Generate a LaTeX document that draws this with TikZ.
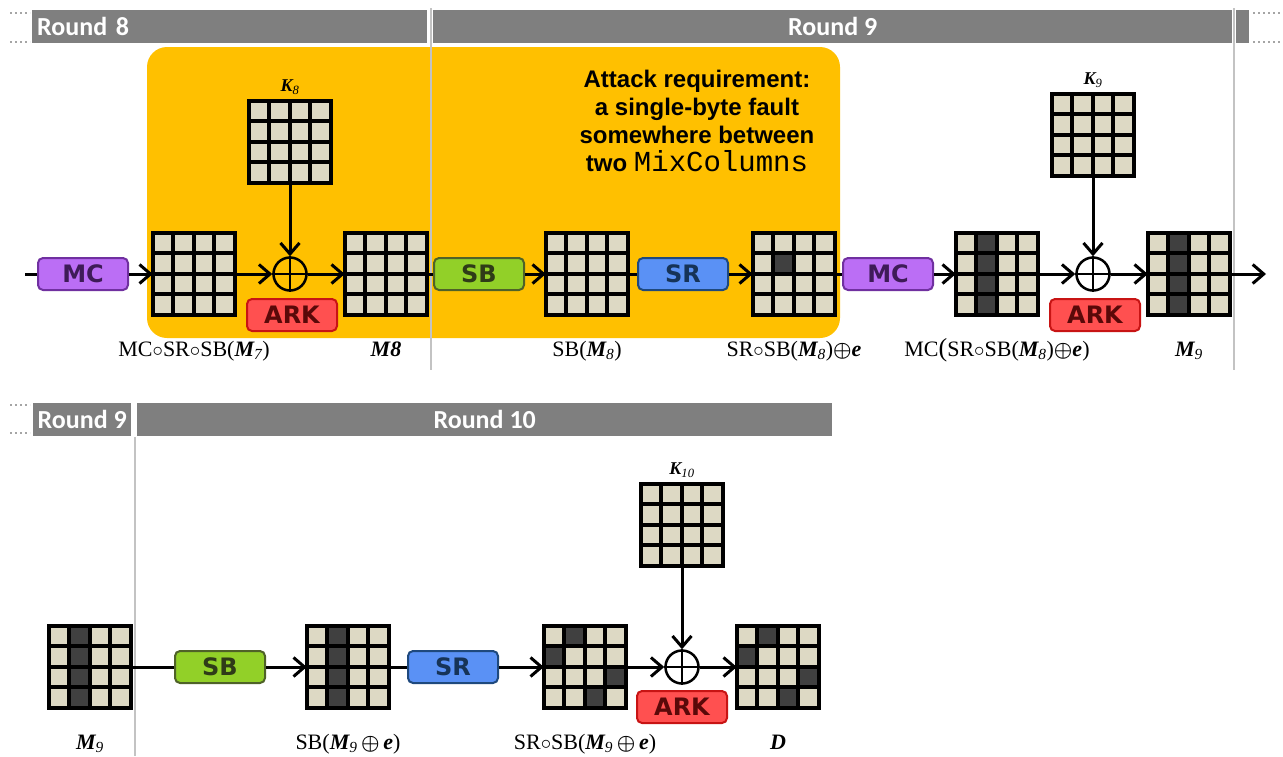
\documentclass[tikz,border=0pt]{standalone}
\usepackage{amsmath}
\usepackage{fontspec}
\setmainfont{Liberation Serif}
\setmonofont{Liberation Mono}
\newfontfamily\headfont{Carlito}
\newfontfamily\boxfont{DejaVu Sans}
\newfontfamily\notefont{Liberation Sans}
\usetikzlibrary{arrows.meta,calc,positioning}
\definecolor{attackorange}{RGB}{255,192,0}
\definecolor{bargray}{RGB}{127,127,127}
\definecolor{rulegray}{RGB}{195,195,195}
\definecolor{cellbeige}{RGB}{221,217,196}
\definecolor{celldark}{RGB}{64,64,64}
\definecolor{mcfill}{RGB}{187,110,245}
\definecolor{mcdraw}{RGB}{112,48,160}
\definecolor{sbfill}{RGB}{146,208,40}
\definecolor{sbdraw}{RGB}{79,98,40}
\definecolor{srfill}{RGB}{90,145,245}
\definecolor{srdraw}{RGB}{31,73,125}
\definecolor{arkfill}{RGB}{255,80,80}
\definecolor{arkdraw}{RGB}{200,20,20}

% one 4x4 AES state: node, dark bytes, then the lines
\newcommand{\stategrid}[3]{%
  \node[statebox] (#1) at (#2) {};
  \foreach \c/\r in {#3}
    \fill[celldark] ($(#1.north west)+(\c*20.5,\r*20.5)$) rectangle ++(20.5,20.5);
  \foreach \i in {0,...,4} {
    \draw[gridline] ($(#1.north west)+(\i*20.5,0)$) -- ++(0,82);
    \draw[gridline] ($(#1.north west)+(0,\i*20.5)$) -- ++(82,0);
  }
}

\begin{document}
\begin{tikzpicture}[
  x=1pt, y=-1pt,
  statebox/.style={fill=cellbeige, minimum size=82pt, inner sep=0pt},
  gridline/.style={line width=4pt, line cap=rect},
  opbox/.style={rounded corners=5pt, line width=2pt, minimum width=90pt,
    minimum height=32pt, inner sep=0pt, font=\boxfont\bfseries\fontsize{24}{28}\selectfont},
  mcop/.style={opbox, fill=mcfill, draw=mcdraw, text=mcdraw!55!black},
  sbop/.style={opbox, fill=sbfill, draw=sbdraw, text=sbdraw!60!black},
  srop/.style={opbox, fill=srfill, draw=srdraw, text=srdraw!70!black},
  arkop/.style={opbox, fill=arkfill, draw=arkdraw, text=arkdraw!45!black},
  xorop/.style={circle, draw, line width=2.5pt, minimum size=33pt, inner sep=0pt},
  roundbar/.style={fill=bargray, text=white, minimum height=33pt, inner ysep=0pt,
    inner xsep=5pt, anchor=north west, font=\headfont\bfseries\fontsize{26}{30}\selectfont},
  statelabel/.style={font=\fontsize{22}{24}\selectfont, text height=15pt,
    text depth=5pt, inner sep=3pt},
  keylabel/.style={font=\fontsize{18}{20}\selectfont\bfseries\itshape, inner sep=2pt},
  rule/.style={draw=rulegray, line width=1.5pt},
  dots/.style={draw=bargray!70, line width=2pt, dash pattern=on 2pt off 3pt},
  flow/.style={line width=3pt, -{Straight Barb[length=11pt,width=19pt]}},
  link/.style={line width=3pt}
]
\useasboundingbox (0,0) rectangle (1283,756);

% fault region
\fill[attackorange, rounded corners=20pt] (147,47) rectangle (840,338);
\node[font=\notefont\bfseries\fontsize{24}{28}\selectfont, align=center] (req) at (697,121)
  {Attack requirement:\\a single-byte fault\\somewhere between\\two {\mdseries\ttfamily\fontsize{29}{28}\selectfont MixColumns}};

% round headers
\node[roundbar, text width=385pt, align=left] (r8) at (32,10) {Round 8};
\node[roundbar, minimum width=799pt] (r9) at (433,10) {Round 9};
\fill[bargray] (1236,10) rectangle (1249,43);
\node[roundbar, minimum width=98pt, inner xsep=2pt] (r9b) at (33,403) {Round 9};
\node[roundbar, minimum width=695pt] (r10) at (137,403) {Round 10};
\draw[dots] (10,13) -- (30,13) (10,42) -- (30,42);
\draw[dots] (1253,13) -- (1281,13) (1253,42) -- (1281,42);
\draw[dots] (10,405) -- (30,405) (10,433) -- (30,433);
\draw[rule] (431,8) -- (431,370);
\draw[rule] (1234,8) -- (1234,370);
\draw[rule] (135,437) -- (135,756);

% rounds 8 and 9
\node[mcop] (mc8) at (83,274) {MC};
\stategrid{g1}{194,274}{}
\stategrid{k8}{290,142}{}
\node[keylabel, above=4pt of k8] (k8l) {K\textsubscript{\mdseries 8}};
\node[xorop] (x8) at (290,274) {};
\draw[line width=2.5pt] (x8.north) -- (x8.south) (x8.west) -- (x8.east);
\node[arkop] (ark8) at (292,315) {ARK};
\stategrid{g2}{386,274}{}
\node[sbop] (sb9) at (479,274) {SB};
\stategrid{g3}{587,274}{}
\node[srop] (sr9) at (683,274) {SR};
\stategrid{g4}{794,274}{1/1}
\node[mcop] (mc9) at (888,274) {MC};
\stategrid{g5}{997,274}{1/0,1/1,1/2,1/3}
\stategrid{k9}{1093,135}{}
\node[keylabel, above=4pt of k9] (k9l) {K\textsubscript{\mdseries 9}};
\node[xorop] (x9) at (1093,274) {};
\draw[line width=2.5pt] (x9.north) -- (x9.south) (x9.west) -- (x9.east);
\node[arkop] (ark9) at (1095,315) {ARK};
\stategrid{g6}{1189,274}{1/0,1/1,1/2,1/3}
\coordinate (in8) at (25,274);
\coordinate (out9) at (1266,274);

\draw[link] (in8) -- (mc8);
\draw[flow] (mc8) -- (g1);
\draw[flow] (g1) -- (x8);
\draw[flow] (k8) -- (x8);
\draw[flow] (x8) -- (g2);
\draw[link] (g2) -- (sb9);
\draw[flow] (sb9) -- (g3);
\draw[link] (g3) -- (sr9);
\draw[flow] (sr9) -- (g4);
\draw[link] (g4) -- (mc9);
\draw[flow] (mc9) -- (g5);
\draw[flow] (g5) -- (x9);
\draw[flow] (k9) -- (x9);
\draw[flow] (x9) -- (g6);
\draw[flow] (g6) -- (out9);

\node[statelabel, below=23pt of g1] (l1) {MC$\circ$SR$\circ$SB({\bfseries\itshape M}\textsubscript{\itshape 7})};
\node[statelabel, below=23pt of g2] (l2) {\bfseries\itshape M8};
\node[statelabel, below=23pt of g3] (l3) {SB({\bfseries\itshape M}\textsubscript{\itshape 8})};
\node[statelabel, below=23pt of g4] (l4) {SR$\circ$SB({\bfseries\itshape M}\textsubscript{\itshape 8})$\boldsymbol{\oplus}${\bfseries\itshape e}};
\node[statelabel, below=23pt of g5] (l5) {MC{\fontsize{26}{24}\selectfont(}SR$\circ$SB({\bfseries\itshape M}\textsubscript{\itshape 8})$\boldsymbol{\oplus}${\bfseries\itshape e})};
\node[statelabel, below=23pt of g6] (l6) {{\bfseries\itshape M}\textsubscript{\itshape 9}};

% round 10
\stategrid{b1}{90,667}{1/0,1/1,1/2,1/3}
\node[sbop] (sb10) at (220,667) {SB};
\stategrid{b2}{348,667}{1/0,1/1,1/2,1/3}
\node[srop] (sr10) at (453,667) {SR};
\stategrid{b3}{585,667}{1/0,0/1,3/2,2/3}
\stategrid{k10}{682,525}{}
\node[keylabel, above=4pt of k10] (k10l) {K\textsubscript{\mdseries 10}};
\node[xorop] (x10) at (682,667) {};
\draw[line width=2.5pt] (x10.north) -- (x10.south) (x10.west) -- (x10.east);
\node[arkop] (ark10) at (682,707) {ARK};
\stategrid{b4}{778,667}{1/0,0/1,3/2,2/3}

\draw[link] (b1) -- (sb10);
\draw[flow] (sb10) -- (b2);
\draw[link] (b2) -- (sr10);
\draw[flow] (sr10) -- (b3);
\draw[flow] (b3) -- (x10);
\draw[flow] (k10) -- (x10);
\draw[flow] (x10) -- (b4);

\node[statelabel, below=23pt of b1] (m1) {{\bfseries\itshape M}\textsubscript{\itshape 9}};
\node[statelabel, below=23pt of b2] (m2) {SB({\bfseries\itshape M}\textsubscript{\itshape 9}\,$\boldsymbol{\oplus}$\,{\bfseries\itshape e})};
\node[statelabel, below=23pt of b3] (m3) {SR$\circ$SB({\bfseries\itshape M}\textsubscript{\itshape 9}\,$\boldsymbol{\oplus}$\,{\bfseries\itshape e})};
\node[statelabel, below=23pt of b4] (m4) {\bfseries\itshape D};
\end{tikzpicture}
\end{document}
